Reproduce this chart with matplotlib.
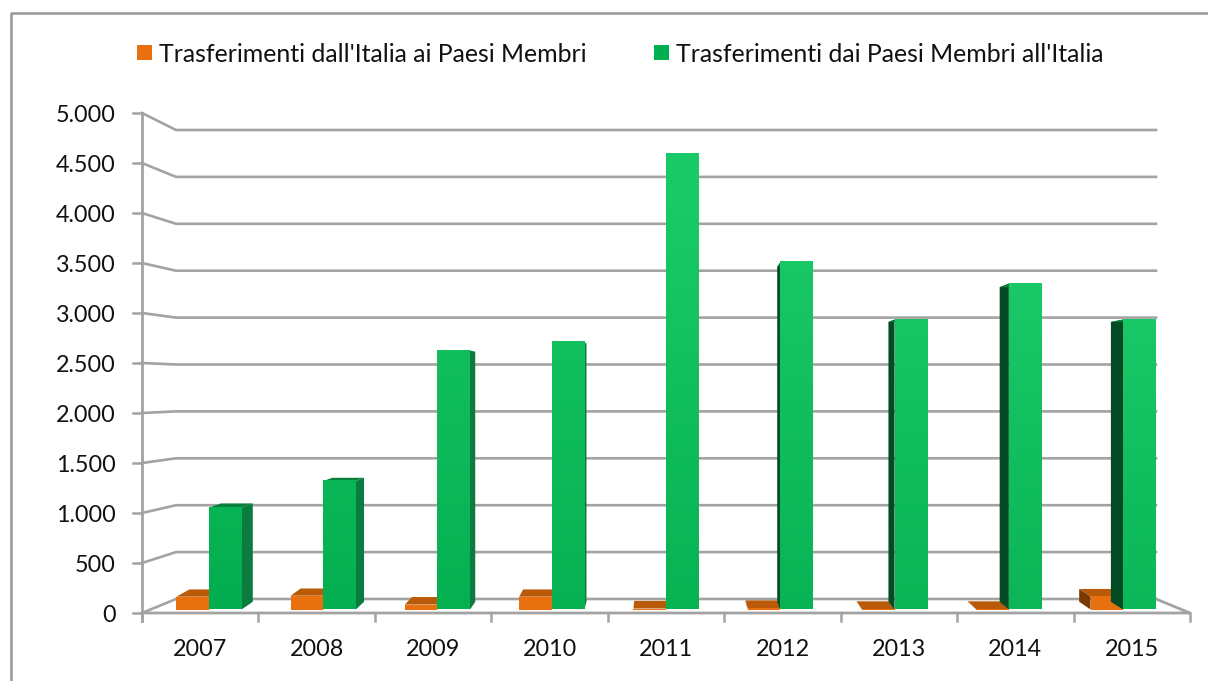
import numpy as np
import matplotlib
matplotlib.use("Agg")
import matplotlib.pyplot as plt
from matplotlib.colors import to_rgb
from matplotlib.patches import Polygon, Rectangle

years = ["2007", "2008", "2009", "2010", "2011", "2012", "2013", "2014", "2015"]
verso_paesi = [130, 140, 50, 130, 10, 15, 5, 5, 135]
verso_italia = [1035, 1305, 2630, 2715, 4625, 3525, 2945, 3310, 2945]
y_ticks = [0, 500, 1000, 1500, 2000, 2500, 3000, 3500, 4000, 4500, 5000]
legend_labels = ["Trasferimenti dall'Italia ai Paesi Membri", "Trasferimenti dai Paesi Membri all'Italia"]

GRID = "#a3a3a3"
ORANGE = "#e8700f"
ORANGE_TOP = "#b85a08"
ORANGE_SIDE = "#7a3a04"
GREEN_LOW = np.array(to_rgb("#03ad4f"))
GREEN_HIGH = np.array(to_rgb("#19c866"))
SIDE_LEFT = "#0a7c3d"
SIDE_RIGHT = "#034a25"
CENTER = 666
N = len(years)
BAR_W = 0.285
FRONT_D = 0.25
BACK_D = 0.8


def wall(cat, value, depth):
    # perspective of the chart box: depth 0 = front edge, 1 = back wall
    half = 524 - 34 * depth
    x = CENTER + (cat - N / 2) / (N / 2) * half
    y = (613 - 14 * depth) - (0.1 - 0.0062 * depth) * value
    return x, y


def bar_pt(cat, value, depth):
    # bars narrow a bit less than the walls
    half = 520.5 - 25 * depth
    x = CENTER + (cat - N / 2) / (N / 2) * half
    y = (613 - 14 * depth) - (0.1 - 0.0062 * depth) * value
    return x, y


def draw_box(ax, c0, c1, value, front, top, side, z):
    f0 = bar_pt(c0, value, FRONT_D)
    f1 = bar_pt(c1, value, FRONT_D)
    b0 = bar_pt(c0, value, BACK_D)
    b1 = bar_pt(c1, value, BACK_D)
    g0 = bar_pt(c0, 0, FRONT_D)
    g1 = bar_pt(c1, 0, FRONT_D)
    h0 = bar_pt(c0, 0, BACK_D)
    h1 = bar_pt(c1, 0, BACK_D)
    if b0[0] < f0[0]:
        ax.add_patch(Polygon([f0, b0, h0, g0], fc=side, ec="none", zorder=z))
    if b1[0] > f1[0]:
        ax.add_patch(Polygon([f1, b1, h1, g1], fc=side, ec="none", zorder=z))
    ax.add_patch(Polygon([f0, b0, b1, f1], fc=top, ec="none", zorder=z + 0.1))
    if front is None:
        # vertical shade, lighter towards the top and the right of the chart
        levels = np.linspace(0, value, 60)
        t = np.clip(levels / 3500 * 0.7 + (c0 / N) * 0.4, 0, 1)
        cols = GREEN_LOW + (GREEN_HIGH - GREEN_LOW) * t[:, None]
        ax.imshow(cols[:, None, :], origin="lower", aspect="auto",
                  extent=(f0[0], f1[0], g0[1], f0[1]), zorder=z + 0.2)
    else:
        ax.add_patch(Polygon([f0, f1, g1, g0], fc=front, ec="none", zorder=z + 0.2))


plt.rcParams["font.family"] = ["Lato", "DejaVu Sans"]
fig = plt.figure(figsize=(12.08, 6.81), dpi=100)
ax = fig.add_axes([0, 0, 1, 1])

# outer frame, only top and left show
ax.plot([10.5, 10.5, 1208], [681, 12.5, 12.5], color="#989898", lw=1.8, zorder=1)

# gridlines on the walls
for v in y_ticks:
    p0 = wall(0, v, 0)
    p1 = wall(0, v, 1)
    p2 = wall(N, v, 1)
    ax.plot([p0[0] - 9, p0[0]], [p0[1], p0[1]], color=GRID, lw=1.8, zorder=2)
    ax.plot([p0[0], p1[0], p2[0]], [p0[1], p1[1], p2[1]], color=GRID, lw=1.9, zorder=2)
    ax.text(116, p0[1] + 2, f"{v:,}".replace(",", "."), ha="right", va="center",
            fontsize=16.8, color="#111111")

# floor and axes
a = wall(0, 0, 0)
b = wall(N, 0, 0)
c = wall(N, 0, 1)
top = wall(0, y_ticks[-1], 0)
ax.plot([a[0], b[0], c[0]], [a[1], b[1], c[1]], color=GRID, lw=2, zorder=2)
ax.plot([a[0], top[0]], [a[1] + 8, top[1]], color=GRID, lw=2, zorder=2)
for i in range(N + 1):
    t = wall(i, 0, 0)
    ax.plot([t[0], t[0]], [t[1], t[1] + 8], color=GRID, lw=1.8, zorder=2)
for i, year in enumerate(years):
    t = wall(i + 0.5, 0, 0)
    ax.text(t[0], 650, year, ha="center", va="center", fontsize=16.8, color="#111111")

# bars, orange first so that green sits over it
for i in range(N):
    mid = i + 0.5
    draw_box(ax, mid - BAR_W, mid, verso_paesi[i], ORANGE, ORANGE_TOP, ORANGE_SIDE, 3)
for i in range(N):
    mid = i + 0.5
    side = SIDE_LEFT if i <= 4 else SIDE_RIGHT
    draw_box(ax, mid, mid + BAR_W, verso_italia[i], None, "#08803d", side, 4)

# legend
ax.add_patch(Rectangle((137, 45), 15, 15, fc=ORANGE, ec="none", zorder=5))
ax.add_patch(Rectangle((654, 45), 15, 15, fc="#00b050", ec="none", zorder=5))
ax.text(159, 54, legend_labels[0], ha="left", va="center", fontsize=17.9, color="#111111")
ax.text(676, 54, legend_labels[1], ha="left", va="center", fontsize=17.9, color="#111111")

ax.set_xlim(0, 1208)
ax.set_ylim(681, 0)
ax.axis("off")
fig.savefig("out.png", dpi=100, facecolor="white")
